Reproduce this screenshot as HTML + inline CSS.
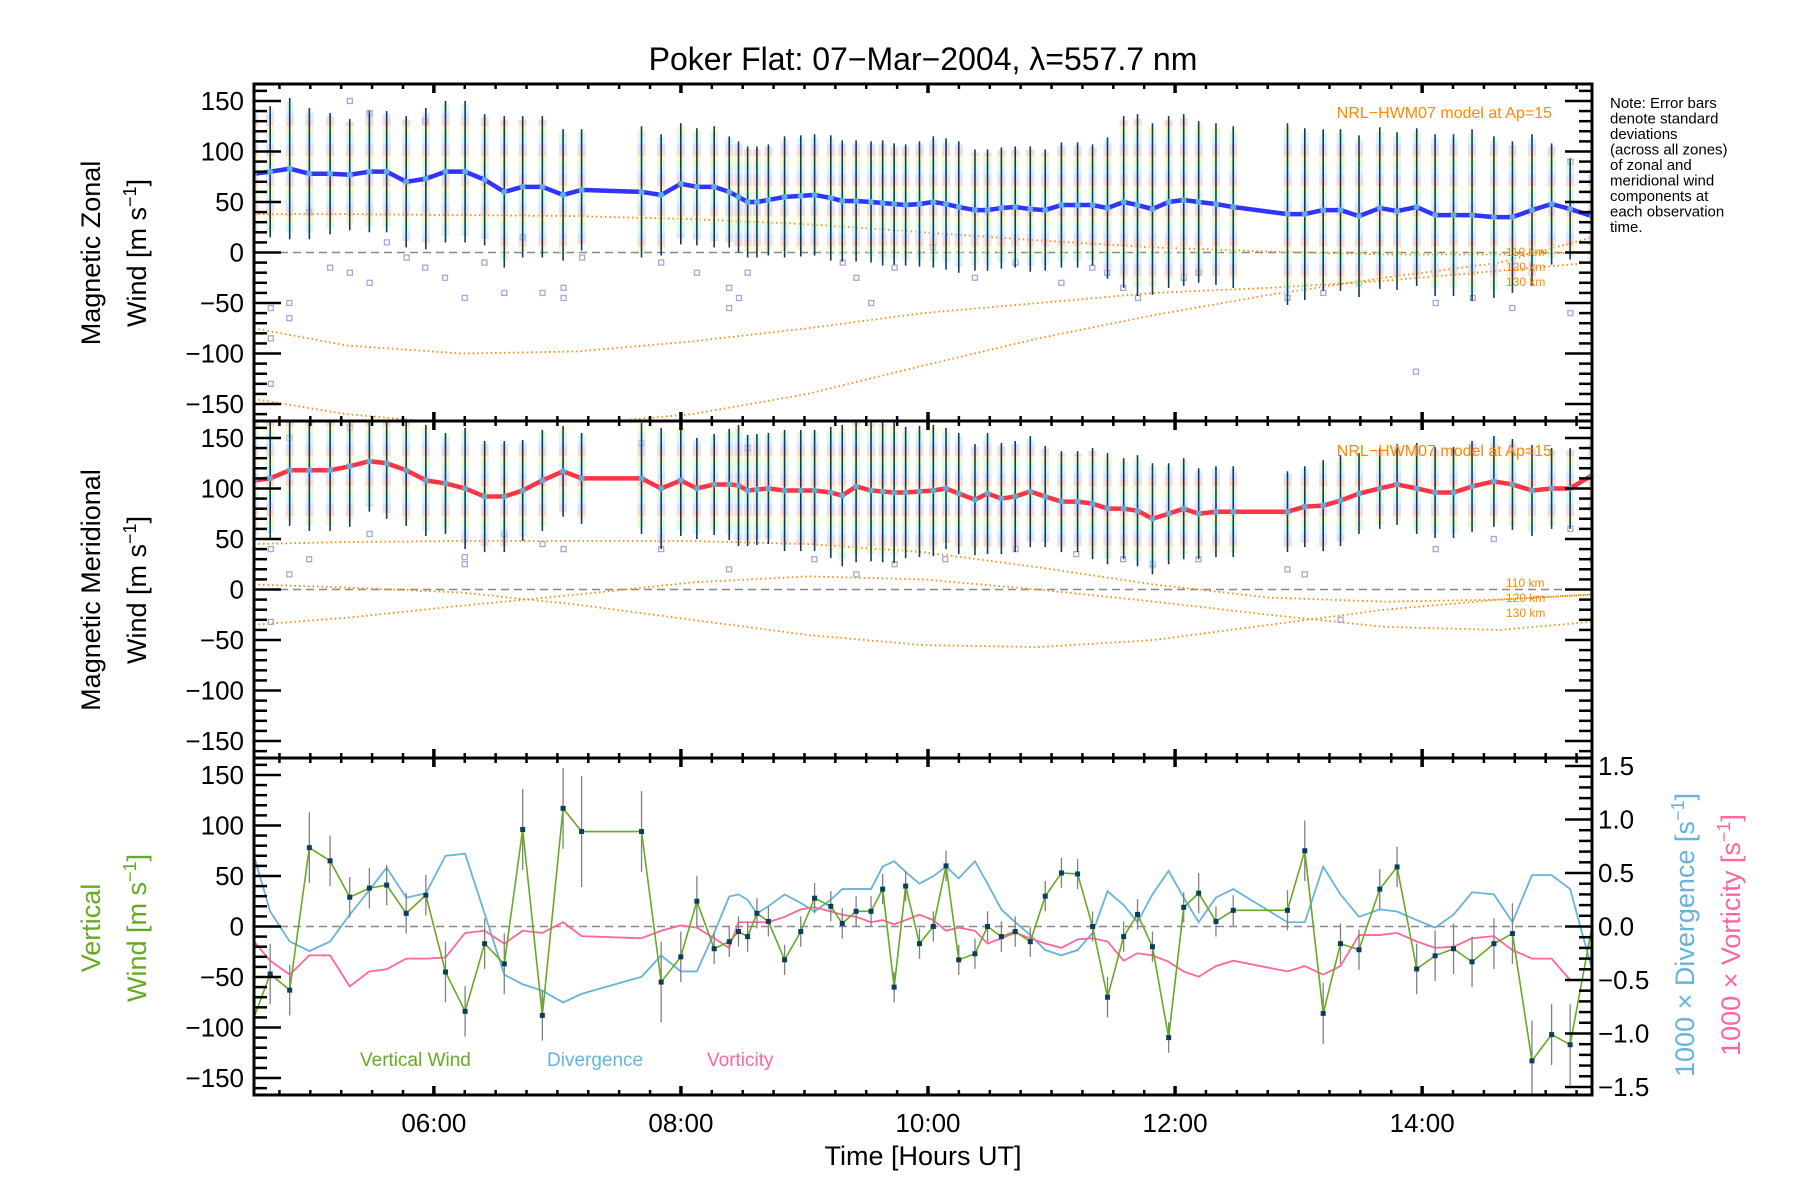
<!DOCTYPE html>
<html><head><meta charset="utf-8"><style>
html,body{margin:0;padding:0;background:#fff;}
svg{display:block;font-family:"Liberation Sans",sans-serif;}
</style></head><body>
<svg id="chart" width="1800" height="1200" viewBox="0 0 1800 1200" xmlns="http://www.w3.org/2000/svg">
<defs>
<pattern id="pastel" width="8" height="30" patternUnits="userSpaceOnUse">
<rect y="0" width="8" height="6" fill="#f7b8ae"/><rect y="6" width="8" height="6" fill="#f8f0a0"/><rect y="12" width="8" height="6" fill="#c6f2be"/><rect y="18" width="8" height="6" fill="#bdeff4"/><rect y="24" width="8" height="6" fill="#c8c8f4"/>
</pattern>
<clipPath id="c0"><rect x="254" y="84" width="1338" height="337"/></clipPath>
<clipPath id="c1"><rect x="254" y="421" width="1338" height="337"/></clipPath>
<clipPath id="c2"><rect x="254" y="758" width="1338" height="338"/></clipPath>
</defs>
<text x="923" y="70" font-size="32" text-anchor="middle">Poker Flat: 07−Mar−2004, λ=557.7 nm</text>
<g id="g0" clip-path="url(#c0)"></g>
<g id="g1" clip-path="url(#c1)"></g>
<g id="g2" clip-path="url(#c2)"></g>
<g id="axes"></g>
<text transform="translate(100,253) rotate(-90)" font-size="27" text-anchor="middle">Magnetic Zonal</text>
<text transform="translate(146,253) rotate(-90)" font-size="27" text-anchor="middle">Wind [m s<tspan baseline-shift="super" font-size="18">−1</tspan>]</text>
<text transform="translate(100,590) rotate(-90)" font-size="27" text-anchor="middle">Magnetic Meridional</text>
<text transform="translate(146,590) rotate(-90)" font-size="27" text-anchor="middle">Wind [m s<tspan baseline-shift="super" font-size="18">−1</tspan>]</text>
<text transform="translate(100,928) rotate(-90)" font-size="27" text-anchor="middle" fill="#66aa22">Vertical</text>
<text transform="translate(146,928) rotate(-90)" font-size="27" text-anchor="middle" fill="#66aa22">Wind [m s<tspan baseline-shift="super" font-size="18">−1</tspan>]</text>
<text transform="translate(1694,935) rotate(-90)" font-size="27" text-anchor="middle" fill="#66b3dd">1000 × Divergence [s<tspan baseline-shift="super" font-size="18">−1</tspan>]</text>
<text transform="translate(1740,935) rotate(-90)" font-size="27" text-anchor="middle" fill="#ff6699">1000 × Vorticity [s<tspan baseline-shift="super" font-size="18">−1</tspan>]</text>
<text x="923" y="1165" font-size="27" text-anchor="middle">Time [Hours UT]</text>
<g font-size="15">
<text x="1610" y="108">Note: Error bars</text><text x="1610" y="123.5">denote standard</text><text x="1610" y="139">deviations</text><text x="1610" y="154.5">(across all zones)</text><text x="1610" y="170">of zonal and</text><text x="1610" y="185.5">meridional wind</text><text x="1610" y="201">components at</text><text x="1610" y="216.5">each observation</text><text x="1610" y="232">time.</text>
</g>
<text x="1552" y="118" font-size="16" fill="#ff8800" text-anchor="end">NRL−HWM07 model at Ap=15</text>
<text x="1552" y="456" font-size="16" fill="#ff8800" text-anchor="end">NRL−HWM07 model at Ap=15</text>
<g font-size="12" fill="#ff8800">
<text x="1506" y="256">110 km</text><text x="1506" y="271">120 km</text><text x="1506" y="286">130 km</text>
<text x="1506" y="587">110 km</text><text x="1506" y="602">120 km</text><text x="1506" y="617">130 km</text>
</g>
<text x="360" y="1066" font-size="19" fill="#66aa22">Vertical Wind</text>
<text x="547" y="1066" font-size="19" fill="#66b3dd">Divergence</text>
<text x="707" y="1066" font-size="19" fill="#ff6699">Vorticity</text>
</svg>
<script>
const times=[4.544,4.675,4.833,4.992,5.160,5.319,5.478,5.618,5.776,5.935,6.094,6.253,6.411,6.570,6.719,6.878,7.046,7.196,7.681,7.840,7.999,8.129,8.269,8.391,8.466,8.540,8.615,8.708,8.839,8.970,9.082,9.213,9.306,9.418,9.539,9.633,9.726,9.819,9.931,10.043,10.146,10.249,10.380,10.482,10.594,10.706,10.828,10.949,11.080,11.211,11.332,11.453,11.584,11.696,11.817,11.948,12.070,12.191,12.331,12.471,12.910,13.050,13.199,13.339,13.489,13.657,13.797,13.956,14.105,14.254,14.404,14.581,14.731,14.889,15.048,15.198,15.375];
const zonal=[78,80,83,78,78,77,80,80,70,73,80,80,72,60,65,65,57,62,60,57,68,65,65,60,55,50,50,52,55,56,57,54,51,51,50,49,48,47,48,50,48,45,42,42,44,45,43,42,47,47,47,44,50,47,43,50,52,50,48,45,38,38,42,42,36,44,41,45,37,37,37,35,35,42,48,43,36];
const zonalErr=[65,65,70,65,60,55,60,60,65,70,70,70,65,75,70,70,65,60,65,60,60,58,60,55,55,55,55,55,60,60,60,62,60,60,60,62,60,60,62,65,65,65,60,60,60,60,62,60,62,62,60,70,85,90,85,85,85,80,80,80,90,85,80,80,80,80,78,78,80,80,85,80,75,75,60,50,50];
const merid=[108,110,118,118,118,122,127,125,118,108,105,100,92,92,98,108,117,110,110,100,108,100,104,104,103,98,99,100,98,98,98,96,93,102,98,97,96,96,97,98,100,95,89,95,90,92,97,92,87,87,85,80,80,78,70,75,80,75,77,77,77,82,83,88,95,100,104,100,96,96,102,107,104,98,100,100,113];
const meridErr=[60,60,55,60,60,60,50,55,55,55,50,60,55,55,50,50,45,45,55,60,55,50,50,55,60,55,55,55,60,60,60,65,70,75,70,70,70,65,65,65,60,60,55,60,55,55,55,50,50,50,55,55,50,55,55,50,50,45,45,45,40,40,45,45,40,40,40,45,45,45,45,45,45,45,40,40,40];
const vertWind=[-90,-47,-63,78,65,29,38,41,13,31,-45,-84,-17,-37,96,-88,117,94,94,-55,-30,25,-22,-15,-5,-10,13,5,-33,-5,28,20,3,15,15,37,-60,40,-17,0,60,-33,-27,0,-10,-5,-15,30,53,52,0,-70,-10,12,-20,-110,19,33,5,16,16,75,-86,-17,-23,37,59,-42,-29,-22,-35,-17,-7,-133,-107,-117,0];
const vertErr=[30,30,25,35,25,20,20,20,20,20,30,25,25,30,40,25,40,55,40,40,25,25,15,15,15,15,15,15,15,15,15,15,15,15,15,15,15,15,15,15,15,15,15,15,15,15,15,15,15,15,15,20,15,15,15,15,15,20,15,15,20,30,30,20,20,20,20,25,25,25,25,25,30,40,30,40,30];
const divergence=[0.66,0.14,-0.14,-0.23,-0.14,0.11,0.34,0.55,0.27,0.31,0.66,0.68,0.12,-0.45,-0.54,-0.60,-0.71,-0.63,-0.47,-0.27,-0.42,-0.42,-0.06,0.28,0.30,0.25,0.12,0.19,0.30,0.22,0.14,0.25,0.35,0.35,0.35,0.56,0.61,0.51,0.40,0.47,0.56,0.45,0.61,0.40,0.16,0.04,-0.08,-0.22,-0.27,-0.22,-0.06,0.33,0.20,0.04,0.30,0.52,0.27,0.04,0.27,0.35,0.04,0.04,0.56,0.30,0.09,0.16,0.14,0.06,-0.01,0.11,0.32,0.30,0.04,0.48,0.48,0.35,-0.40];
const vorticity=[-0.14,-0.32,-0.45,-0.27,-0.27,-0.56,-0.42,-0.40,-0.30,-0.30,-0.29,-0.06,-0.04,-0.16,-0.04,-0.06,0.04,-0.09,-0.11,-0.04,0.01,-0.01,-0.11,-0.20,0.04,0.04,0.04,0.04,0.09,0.16,0.18,0.14,0.11,0.09,0.04,0.06,0.02,0.06,0.11,0.06,-0.04,-0.01,-0.04,-0.16,-0.11,-0.06,-0.11,-0.16,-0.20,-0.12,-0.11,-0.14,-0.32,-0.25,-0.27,-0.33,-0.42,-0.47,-0.37,-0.32,-0.42,-0.37,-0.45,-0.37,-0.08,-0.08,-0.06,-0.14,-0.20,-0.19,-0.11,-0.09,-0.22,-0.30,-0.30,-0.50,-0.50];
const modelTimes=[4.544,5.291,6.225,7.158,8.092,9.026,9.960,10.893,11.827,12.761,13.694,14.628,15.375];
const zonal110=[38,38,37,36,33,28,20,12,5,1,-2,-2,0];
const zonal120=[-75,-92,-100,-98,-88,-75,-60,-50,-40,-35,-28,-18,-10];
const zonal130=[-145,-160,-170,-170,-160,-140,-112,-85,-62,-42,-25,-10,15];
const merid110=[45,47,48,48,48,45,37,22,5,-8,-12,-10,-5];
const merid120=[-35,-28,-16,-5,7,13,10,0,-12,-25,-37,-40,-32];
const merid130=[5,2,-3,-15,-30,-45,-55,-57,-50,-35,-20,-10,-5];
const zonalScatterT=[4.68,4.68,4.68,4.83,4.83,4.99,5.16,5.32,5.48,5.62,5.78,5.93,6.09,6.25,6.41,6.57,6.72,6.88,7.05,7.05,7.20,7.84,8.13,8.39,8.39,8.47,8.54,9.31,9.42,9.54,9.73,10.04,10.38,10.71,11.08,11.33,11.45,11.58,11.70,12.07,12.19,12.91,13.20,13.49,13.95,14.11,14.41,14.73,15.20,15.20,5.32,5.48,5.93];
const zonalScatterV=[-55,-130,-85,-50,-65,40,-15,-20,-30,10,-5,-15,-25,-45,-10,-40,15,-40,-35,-45,-5,-10,-20,-35,-55,-45,-20,-10,-25,-50,-15,5,-25,-10,-30,-15,-20,-35,-45,-25,-20,-45,-40,-30,-118,-50,-45,-55,-60,90,150,138,130];
const meridScatterT=[4.68,4.68,4.83,4.99,5.48,6.25,6.25,6.57,6.88,7.05,7.84,8.39,9.08,9.42,9.73,10.14,10.71,11.20,11.58,11.82,12.19,12.91,13.05,13.34,14.11,14.58,15.20,15.38,4.83,5.32,7.68,8.54];
const meridScatterV=[40,-32,15,30,55,32,25,55,45,40,40,20,30,15,25,30,40,35,30,25,30,20,15,-30,40,50,60,30,150,160,145,140];
const xTicks=[6,8,10,12,14];
const xTickLabels=["06:00","08:00","10:00","12:00","14:00"];
const yTicks=[-150,-100,-50,0,50,100,150];
const yTickLabels=["−150","−100","−50","0","50","100","150"];
const rTicks=[-1.5,-1.0,-0.5,0,0.5,1.0,1.5];
const rTickLabels=["−1.5","−1.0","−0.5","0.0","0.5","1.0","1.5"];

const NS="http://www.w3.org/2000/svg";
const L=254,R=1592,T0=4.544,T1=15.375;
const PT=[84,421,758],PH=337,YR=166.8;
function X(t){return L+(t-T0)*(R-L)/(T1-T0);}
function Y(p,v){return PT[p]+PH/2-v*PH/(2*YR);}
function YR2(d){return PT[2]+PH/2-d*PH/(2*1.575);}
function mk(parent,tag,attrs){const e=document.createElementNS(NS,tag);for(const k in attrs)e.setAttribute(k,attrs[k]);parent.appendChild(e);return e;}
const g=[document.getElementById('g0'),document.getElementById('g1'),document.getElementById('g2')];
const ax=document.getElementById('axes');

for(let p=0;p<3;p++){
  const z=mk(g[p],'line',{x1:L,x2:R,y1:Y(p,0),y2:Y(p,0),stroke:'#888','stroke-width':1.5,'stroke-dasharray':'8,5'});
  
  
}
function curve(p,vals,name){
  const pts=modelTimes.map((t,i)=>X(t)+','+Y(p,vals[i])).join(' ');
  const e=mk(g[p],'polyline',{points:pts,fill:'none',stroke:'#ff8800','stroke-width':1.8,'stroke-dasharray':'1.5,3'});
  
  
}
curve(0,zonal110,'model-zonal-110km');curve(0,zonal120,'model-zonal-120km');curve(0,zonal130,'model-zonal-130km');
curve(1,merid110,'model-meridional-110km');curve(1,merid120,'model-meridional-120km');curve(1,merid130,'model-meridional-130km');

function scatter(p,ts,vs,name){
  ts.forEach((t,i)=>{
    const e=mk(g[p],'rect',{x:X(t)-2.5,y:Y(p,vs[i])-2.5,width:5,height:5,fill:'none',stroke:'#a6a6dd','stroke-width':1.3});
    
    
  });
}
scatter(0,zonalScatterT,zonalScatterV,'zonal-zone-point');
scatter(1,meridScatterT,meridScatterV,'meridional-zone-point');

function windPanel(p,vals,errs,color,name){
  times.forEach((t,i)=>{
    const s=mk(g[p],'rect',{x:X(t)-4,y:Y(p,vals[i]+errs[i]*0.95),width:8,height:Y(p,vals[i]-errs[i]*0.9)-Y(p,vals[i]+errs[i]*0.95),fill:'url(#pastel)',opacity:0.55});
    
    
  });
  times.forEach((t,i)=>{
    const b=mk(g[p],'line',{x1:X(t),x2:X(t),y1:Y(p,vals[i]+errs[i]),y2:Y(p,vals[i]-errs[i]),stroke:'#0b3d5c','stroke-width':1.6});
    
    
  });
  const l=mk(g[p],'polyline',{points:times.map((t,i)=>X(t)+','+Y(p,vals[i])).join(' '),fill:'none',stroke:color,'stroke-width':4.5,'stroke-linejoin':'round'});
  
  
  times.forEach((t,i)=>{
    const c=mk(g[p],'circle',{cx:X(t),cy:Y(p,vals[i]),r:3,fill:'#5aaed8'});
    
    
  });
}
windPanel(0,zonal,zonalErr,'#3333ff','zonal-wind-line');
windPanel(1,merid,meridErr,'#ff3344','meridional-wind-line');

const dv=mk(g[2],'polyline',{points:times.map((t,i)=>X(t)+','+YR2(divergence[i])).join(' '),fill:'none',stroke:'#66b3dd','stroke-width':1.8});


const vo=mk(g[2],'polyline',{points:times.map((t,i)=>X(t)+','+YR2(vorticity[i])).join(' '),fill:'none',stroke:'#ff6699','stroke-width':1.8});


times.forEach((t,i)=>{
  const b=mk(g[2],'line',{x1:X(t),x2:X(t),y1:Y(2,vertWind[i]+vertErr[i]),y2:Y(2,vertWind[i]-vertErr[i]),stroke:'#808080','stroke-width':1.3});
  
  
});
const vw=mk(g[2],'polyline',{points:times.map((t,i)=>X(t)+','+Y(2,vertWind[i])).join(' '),fill:'none',stroke:'#66aa22','stroke-width':1.6});


times.forEach((t,i)=>{
  if(i===0||i===times.length-1)return;
  const c=mk(g[2],'rect',{x:X(t)-2.5,y:Y(2,vertWind[i])-2.5,width:5,height:5,fill:'#0b3d5c'});
  
  
});

for(let p=0;p<3;p++){
  const top=PT[p],bot=PT[p]+PH;
  const fr=mk(ax,'rect',{x:L,y:top,width:R-L,height:PH,fill:'none',stroke:'#000','stroke-width':3});
  
  
  for(let v=-160;v<=160;v+=10){
    const y=Y(p,v);const maj=v%50===0;const len=maj?27:13;
    mk(ax,'line',{x1:L,x2:L+len,y1:y,y2:y,stroke:'#000','stroke-width':2.5});
    if(p<2)mk(ax,'line',{x1:R,x2:R-len,y1:y,y2:y,stroke:'#000','stroke-width':2.5});
  }
  yTicks.forEach((v,i)=>{
    const t=mk(ax,'text',{x:L-10,y:Y(p,v)+9,'font-size':26,'text-anchor':'end'});
    t.textContent=yTickLabels[i];
    
    
  });
  for(let h=4.75;h<=15.3;h+=0.25){
    const x=X(h);const maj=Math.abs(h%2)<1e-6;const len=maj?9:5;
    mk(ax,'line',{x1:x,x2:x,y1:top,y2:top+len,stroke:'#000','stroke-width':maj?3.5:2.5});
    mk(ax,'line',{x1:x,x2:x,y1:bot,y2:bot-len,stroke:'#000','stroke-width':maj?3.5:2.5});
  }
}
for(let d=-1.5;d<=1.501;d+=0.1){
  const y=YR2(d);const maj=Math.abs(Math.round(d*10)%5)===0;const len=maj?27:13;
  mk(ax,'line',{x1:R,x2:R-len,y1:y,y2:y,stroke:'#000','stroke-width':2.5});
}
rTicks.forEach((d,i)=>{
  const t=mk(ax,'text',{x:R+6,y:YR2(d)+9,'font-size':26});
  t.textContent=rTickLabels[i];
  
  
});
xTicks.forEach((h,i)=>{
  const t=mk(ax,'text',{x:X(h),y:1132,'font-size':26,'text-anchor':'middle'});
  t.textContent=xTickLabels[i];
  
  
});
</script>
</body></html>
